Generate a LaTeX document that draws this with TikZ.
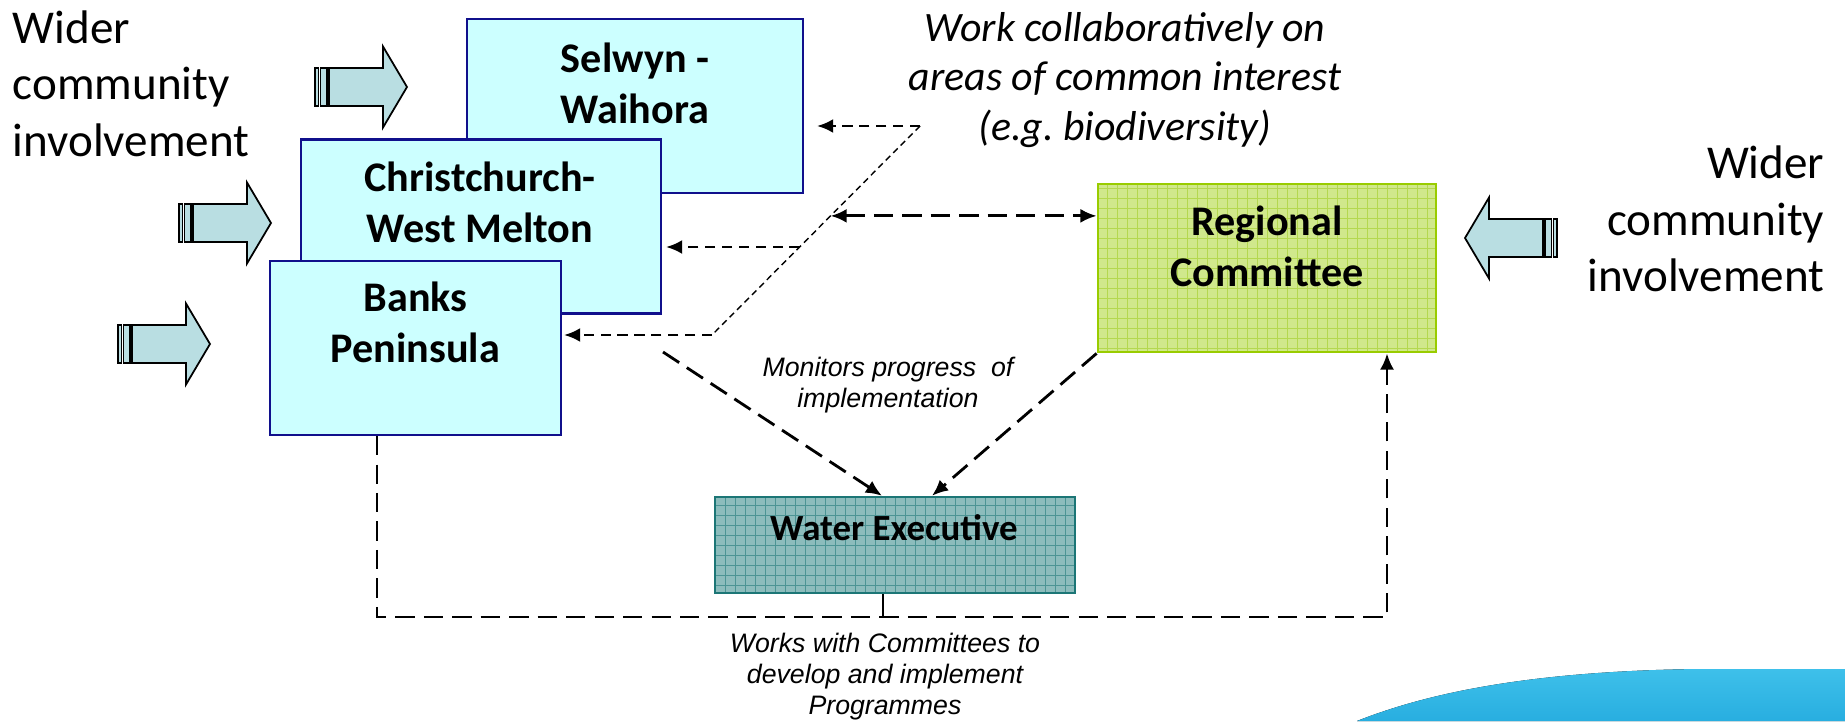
\documentclass[tikz,border=0pt]{standalone}
\usepackage{fontspec}
\setmainfont{Carlito}
\newfontfamily\arialfont{Liberation Sans}
\usetikzlibrary{arrows.meta,calc}
\frenchspacing
\definecolor{zonefill}{RGB}{204,255,255}
\definecolor{zoneline}{RGB}{16,16,140}
\definecolor{regfill}{RGB}{208,232,140}
\definecolor{reggrid}{RGB}{180,216,80}
\definecolor{regline}{RGB}{153,204,0}
\definecolor{wefill}{RGB}{140,188,188}
\definecolor{wegrid}{RGB}{76,148,148}
\definecolor{weline}{RGB}{28,118,118}
\definecolor{arrowfill}{RGB}{185,222,226}
\definecolor{swooshtop}{RGB}{62,192,234}
\definecolor{swooshbot}{RGB}{40,174,224}
\tikzset{
  zone/.style={draw=zoneline, fill=zonefill, line width=0.6pt, inner sep=0pt, minimum height=1.74cm},
  gridded/.style={path picture={\draw[#1, line width=0.2pt, step=0.1]
      (path picture bounding box.south west) grid (path picture bounding box.north east);}},
  regbox/.style={draw=regline, fill=regfill, gridded=reggrid, line width=0.8pt, inner sep=0pt,
      minimum width=3.38cm, minimum height=1.68cm},
  webox/.style={draw=weline, fill=wefill, gridded=wegrid, line width=0.7pt, inner sep=0pt,
      minimum width=3.60cm, minimum height=0.96cm},
  boxtext/.style={inner sep=0pt, align=center, font=\bfseries\fontsize{12}{14.5}\selectfont},
  widertext/.style={inner sep=0pt, font=\fontsize{13.4}{16.1}\selectfont},
  notetext/.style={inner sep=0pt, align=center, font=\arialfont\itshape\fontsize{7.6}{8.8}\selectfont},
  shortdash/.style={line width=0.75pt, dash pattern=on 2.9pt off 1.9pt},
  finedash/.style={line width=0.4pt, dash pattern=on 1.8pt off 1.2pt},
  longdash/.style={line width=0.8pt, dash pattern=on 5.5pt off 2.6pt},
  arrowbody/.style={draw=black, fill=arrowfill, line width=0.5pt},
  wcarrow/.pic={
    \draw[arrowbody] (0,-0.19) rectangle (0.035,0.19);
    \draw[arrowbody] (0.055,-0.19) rectangle (0.12,0.19);
    \draw[arrowbody] (0.14,-0.19) -- (0.68,-0.19) -- (0.68,-0.405) -- (0.92,0)
      -- (0.68,0.405) -- (0.68,0.19) -- (0.14,0.19) -- cycle;
  }
}

\begin{document}
\begin{tikzpicture}[>={Latex[length=4.6pt,width=4pt]}]
	\path[use as bounding box] (0,0) rectangle (18.45,7.21);
	% blue band in the corner
	\fill[top color=swooshtop, bottom color=swooshbot] (13.57,0) .. controls (14.2,0.25) and (15.2,0.5) .. (17.0,0.52) -- (18.45,0.52) -- (18.45,0) -- cycle;

	% zone committees, regional committee, executive
	\node	(sw) at (6.35,6.15) [zone, minimum width=3.36cm] {};
	\node	(cwm) at (4.81,4.945) [zone, minimum width=3.60cm] {};
	\node	(bp) at (4.155,3.73) [zone, minimum width=2.91cm] {};
	\node	(rc) at (12.67,4.53) [regbox] {};
	\node	(we) at (8.95,1.76) [webox] {};

	\node	(swt) at (6.35,6.38) [boxtext] {Selwyn -\\Waihora};
	\node	(cwmt) at (4.80,5.19) [boxtext] {Christchurch-\\West Melton};
	\node	(bpt) at (4.155,3.99) [boxtext] {Banks\\Peninsula};
	\node	(rct) at (12.67,4.75) [boxtext] {Regional\\Committee};
	\node	(wet) at (8.94,1.93) [boxtext, font=\bfseries\fontsize{10.5}{12}\selectfont] {Water Executive};

	% labels
	\node	(lwider) at (0.12,6.375) [widertext, anchor=west, align=left] {Wider\\community\\involvement};
	\node	(rwider) at (18.25,5.02) [widertext, anchor=east, align=right] {Wider\\community\\involvement};
	\node	(collab) at (11.25,6.41) [inner sep=0pt, align=center, font=\itshape\fontsize{11.9}{14.2}\selectfont] {Work collaboratively on\\areas of common interest\\(e.g. biodiversity)};
	\node	(monitor) at (8.88,3.36) [notetext] {Monitors progress\ \ of\\implementation};
	\node	(works) at (8.85,0.44) [notetext] {Works with Committees to\\develop and implement\\Programmes};

	% community involvement arrows
	\pic at (3.15,6.34) {wcarrow};
	\pic at (1.79,4.98) {wcarrow};
	\pic at (1.18,3.77) {wcarrow};
	\pic[xscale=-1] at (15.57,4.83) {wcarrow};

	% connectors
	\coordinate (ja) at (9.20,5.95);
	\coordinate (jb) at (7.12,3.86);
	\coordinate (jc) at ($(ja)!0.579!(jb)$);
	\coordinate (jd) at ($(ja)!0.43!(jb)$);
	\coordinate (jm) at (6.63,3.69);
	\coordinate (jw) at (8.83,1.04);

	\draw[finedash] (ja) -- (jb);
	\draw[shortdash,->,shorten >=1.3mm] (ja) -- (sw.east |- ja);
	\draw[shortdash,->,shorten >=0.4mm] (jc) -- (cwm.east |- jc);
	\draw[shortdash,->,shorten >=0.2mm] (jb) -- (bp.east |- jb);
	\draw[longdash,<->] (jd) -- (rc.west |- jd);
	\draw[longdash,->] (jm) -- ([xshift=-1.3mm]we.north);
	\draw[longdash,->] (rc.south west) -- ([xshift=3.7mm]we.north);
	\draw[longdash,->] ([xshift=-3.85mm]bp.south) |- (jw) -| ([xshift=12mm]rc.south);
	\draw[line width=0.6pt] (we.south -| jw) -- (jw);
\end{tikzpicture}
\end{document}
